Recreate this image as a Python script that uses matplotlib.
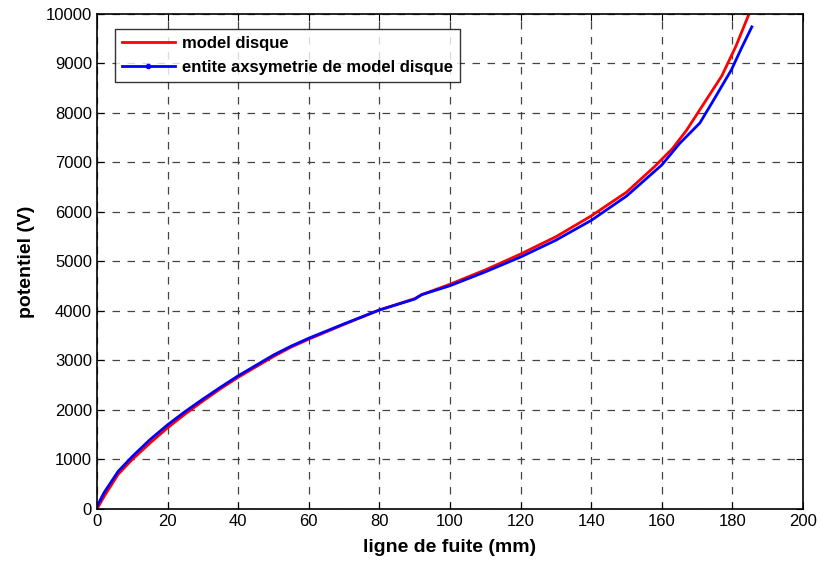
import numpy as np
import matplotlib.pyplot as plt

# potential along the leakage path (mm -> V)
x_disque = [0, 2, 6, 10, 15, 20, 25, 30, 35, 40, 45, 50, 55, 60, 70, 80, 90, 92,
            100, 110, 120, 130, 140, 150, 158, 163, 167, 172, 177, 181, 184.7]
v_disque = [0, 250, 700, 1000, 1330, 1640, 1920, 2180, 2430, 2660, 2870, 3080, 3270, 3430,
            3730, 4020, 4250, 4330, 4540, 4830, 5150, 5500, 5920, 6400, 6920, 7280, 7650,
            8200, 8750, 9350, 10000]

x_axsym = [0, 2, 6, 10, 15, 20, 25, 30, 35, 40, 45, 50, 55, 60, 70, 80, 90, 92,
           100, 110, 120, 130, 140, 150, 160, 165, 170.8, 175, 179.7, 182.5, 185.5]
v_axsym = [50, 330, 760, 1060, 1400, 1700, 1970, 2220, 2460, 2690, 2900, 3110, 3290, 3450,
           3740, 4020, 4240, 4330, 4510, 4790, 5090, 5430, 5830, 6320, 6950, 7380, 7800,
           8300, 8870, 9300, 9740]

plt.rcParams['font.family'] = ['Liberation Sans', 'DejaVu Sans']

fig = plt.figure(figsize=(8.21, 5.68), dpi=100)
ax = fig.add_axes([0.1181, 0.1039, 0.860, 0.8715])

ax.plot(x_disque, v_disque, color='red', lw=2, label='model disque')
ax.plot(x_axsym, v_axsym, color='blue', lw=2, marker='.', markevery=[],
        label='entite axsymetrie de model disque')

ax.set_xlim(0, 200)
ax.set_ylim(0, 10000)
ax.set_xticks(np.arange(0, 201, 20))
ax.set_yticks(np.arange(0, 10001, 1000))
ax.tick_params(direction='in', labelsize=12, length=5, top=True, right=True)
ax.grid(True, color='#444444', linestyle=(0, (6, 6)), linewidth=0.9)
for s in ax.spines.values():
    s.set_linewidth(1.2)

ax.set_xlabel('ligne de fuite (mm)', fontsize=14, fontweight='bold', labelpad=7)
ax.set_ylabel('potentiel (V)', fontsize=14, fontweight='bold', labelpad=8)

leg = ax.legend(loc='upper left', bbox_to_anchor=(0.025, 0.97),
                frameon=True, fancybox=False, handlelength=3.2, handletextpad=0.4,
                borderpad=0.43, labelspacing=0.55, borderaxespad=0,
                prop={'weight': 'bold', 'size': 12})
leg.get_frame().set_edgecolor('black')
leg.get_frame().set_linewidth(1.0)
leg.legend_handles[1].set_markevery([1])

fig.savefig('out.png', dpi=100)
